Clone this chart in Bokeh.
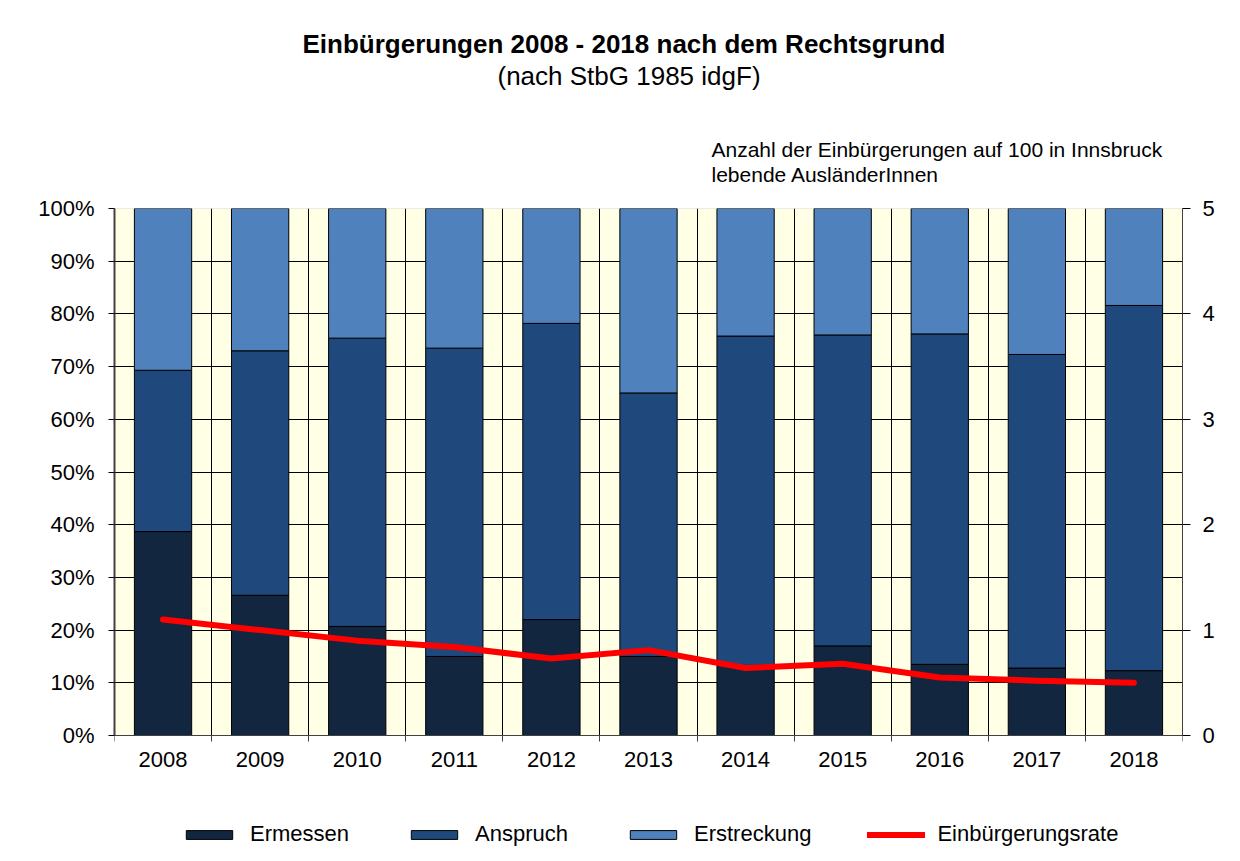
import numpy as np
from bokeh.plotting import figure
from bokeh.models import (Range1d, LinearAxis, FixedTicker, Title, Legend,
                          LegendItem, ColumnDataSource, BoxAnnotation)
from bokeh.embed import file_html
from bokeh.resources import INLINE

years = ["2008", "2009", "2010", "2011", "2012", "2013", "2014", "2015", "2016", "2017", "2018"]
ermessen = [38.7, 26.6, 20.7, 15.0, 22.0, 15.0, 13.3, 17.0, 13.5, 12.8, 12.3]
anspruch = [30.6, 46.4, 54.7, 58.5, 56.2, 50.0, 62.5, 59.0, 62.7, 59.5, 69.3]
erstreckung = [30.7, 27.0, 24.6, 26.5, 21.8, 35.0, 24.2, 24.0, 23.8, 27.7, 18.4]
rate = [1.10, 1.00, 0.90, 0.84, 0.73, 0.81, 0.64, 0.68, 0.55, 0.52, 0.50]
pct_ticks = [0, 10, 20, 30, 40, 50, 60, 70, 80, 90, 100]
rate_ticks = [0, 1, 2, 3, 4, 5]

FONT = "Liberation Sans"
C_ERM = "#12263F"
C_ANS = "#1F497D"
C_ERS = "#4F81BD"
C_BG = "#FFFFE6"

# layout (pixels): plot area 208..735, frame extended down to hold the legend
W, H = 1240, 861
TOP, BOTTOM_PAD, PLOT_H = 208, 6, 527
frame_h = H - TOP - BOTTOM_PAD
extra = (frame_h - PLOT_H) / PLOT_H

n = len(years)
xpos = np.arange(n) + 0.5
src = ColumnDataSource(dict(x=xpos, Ermessen=ermessen, Anspruch=anspruch,
                            Erstreckung=erstreckung, rate=rate))

p = figure(width=W, height=H, output_backend="svg", toolbar_location=None,
           x_range=Range1d(0, n), y_range=Range1d(-100 * extra, 100),
           min_border_left=114, min_border_right=58, min_border_top=TOP,
           min_border_bottom=BOTTOM_PAD, background_fill_color="white",
           border_fill_color="white", outline_line_color=None)
p.extra_y_ranges = {"rate": Range1d(-5 * extra, 5)}

p.add_layout(BoxAnnotation(left=0, right=n, bottom=0, top=100, fill_color=C_BG,
                           fill_alpha=1, line_color="#808080", line_width=1,
                           level="image"))

bars = p.vbar_stack(["Ermessen", "Anspruch", "Erstreckung"], x="x", width=0.59,
                    source=src, fill_color=[C_ERM, C_ANS, C_ERS],
                    line_color="#000000", line_width=1)
ln = p.line("x", "rate", source=src, y_range_name="rate", line_color="#FF0000",
            line_width=6, line_cap="round", line_join="round")

# grids
p.ygrid.ticker = FixedTicker(ticks=pct_ticks)
p.ygrid.grid_line_color = "#000000"
p.ygrid.grid_line_width = 1
p.xgrid.ticker = FixedTicker(ticks=list(range(1, n)))
p.xgrid.grid_line_color = "#000000"
p.xgrid.grid_line_width = 1
try:
    p.xgrid.cross_bounds = (0, 100)
except Exception:
    p.xgrid.visible = False
    b = np.arange(1, n)
    p.segment(x0=b, y0=np.zeros(len(b)), x1=b, y1=np.full(len(b), 100),
              line_color="#000000", line_width=1, level="underlay")

# left axis
ya = p.yaxis[0]
ya.bounds = (0, 100)
ya.ticker = FixedTicker(ticks=pct_ticks)
ya.major_label_overrides = {t: f"{t}%" for t in pct_ticks}
ya.major_label_text_font = FONT
ya.major_label_text_font_size = "22px"
ya.major_label_text_color = "#000000"
ya.axis_line_color = "#404040"
ya.axis_line_width = 2
ya.major_tick_line_color = "#000000"
ya.major_tick_out = 6
ya.major_tick_in = 0
ya.minor_tick_line_color = None
ya.major_label_standoff = 14

# bottom axis, placed at 0 %
xa = p.xaxis[0]
xa.fixed_location = 0
xa.ticker = FixedTicker(ticks=list(xpos), minor_ticks=list(range(0, n + 1)))
xa.major_label_overrides = {float(v): y for v, y in zip(xpos, years)}
xa.major_label_text_font = FONT
xa.major_label_text_font_size = "22px"
xa.major_label_text_color = "#000000"
xa.axis_line_color = "#404040"
xa.axis_line_width = 1
xa.major_tick_line_color = None
xa.major_tick_out = 6
xa.major_tick_in = 0
xa.minor_tick_line_color = "#404040"
xa.minor_tick_out = 6
xa.minor_tick_in = 0
xa.major_label_standoff = 10

# right axis
ra = LinearAxis(y_range_name="rate", ticker=FixedTicker(ticks=rate_ticks), bounds=(0, 5))
ra.major_label_text_font = FONT
ra.major_label_text_font_size = "22px"
ra.major_label_text_color = "#000000"
ra.axis_line_color = "#404040"
ra.major_tick_line_color = "#000000"
ra.major_tick_out = 8
ra.major_tick_in = 0
ra.minor_tick_line_color = None
ra.major_label_standoff = 12
p.add_layout(ra, "right")

# texts above the plot (first added = closest to the plot)
def ttl(txt, size, style="normal", offset=0, standoff=0):
    t = Title(text=txt, text_font=FONT, text_font_size=size,
              text_font_style=style, align="left", offset=offset,
              standoff=standoff, text_color="#000000", text_line_height=1.1)
    p.add_layout(t, "above")

ttl("Anzahl der Einbürgerungen auf 100 in Innsbruck\nlebende AusländerInnen",
    "21px", offset=597, standoff=45)
ttl(" ", "1px", standoff=20)  # spacer
ttl("(nach StbG 1985 idgF)", "26px", offset=383)
ttl("Einbürgerungen 2008 - 2018 nach dem Rechtsgrund", "26px", style="bold", offset=188)

legend = Legend(items=[
    LegendItem(label="Ermessen", renderers=[bars[0]]),
    LegendItem(label="Anspruch", renderers=[bars[1]]),
    LegendItem(label="Erstreckung", renderers=[bars[2]]),
    LegendItem(label="Einbürgerungsrate", renderers=[ln]),
], orientation="horizontal", location=(66, 8), glyph_width=58,
    glyph_height=11, label_standoff=12, spacing=56, padding=0, margin=0,
    border_line_color=None, background_fill_alpha=0,
    label_text_font=FONT, label_text_font_size="22px", label_text_color="#000000")
p.add_layout(legend, "center")

open("out.html", "w").write(file_html(p, INLINE))
